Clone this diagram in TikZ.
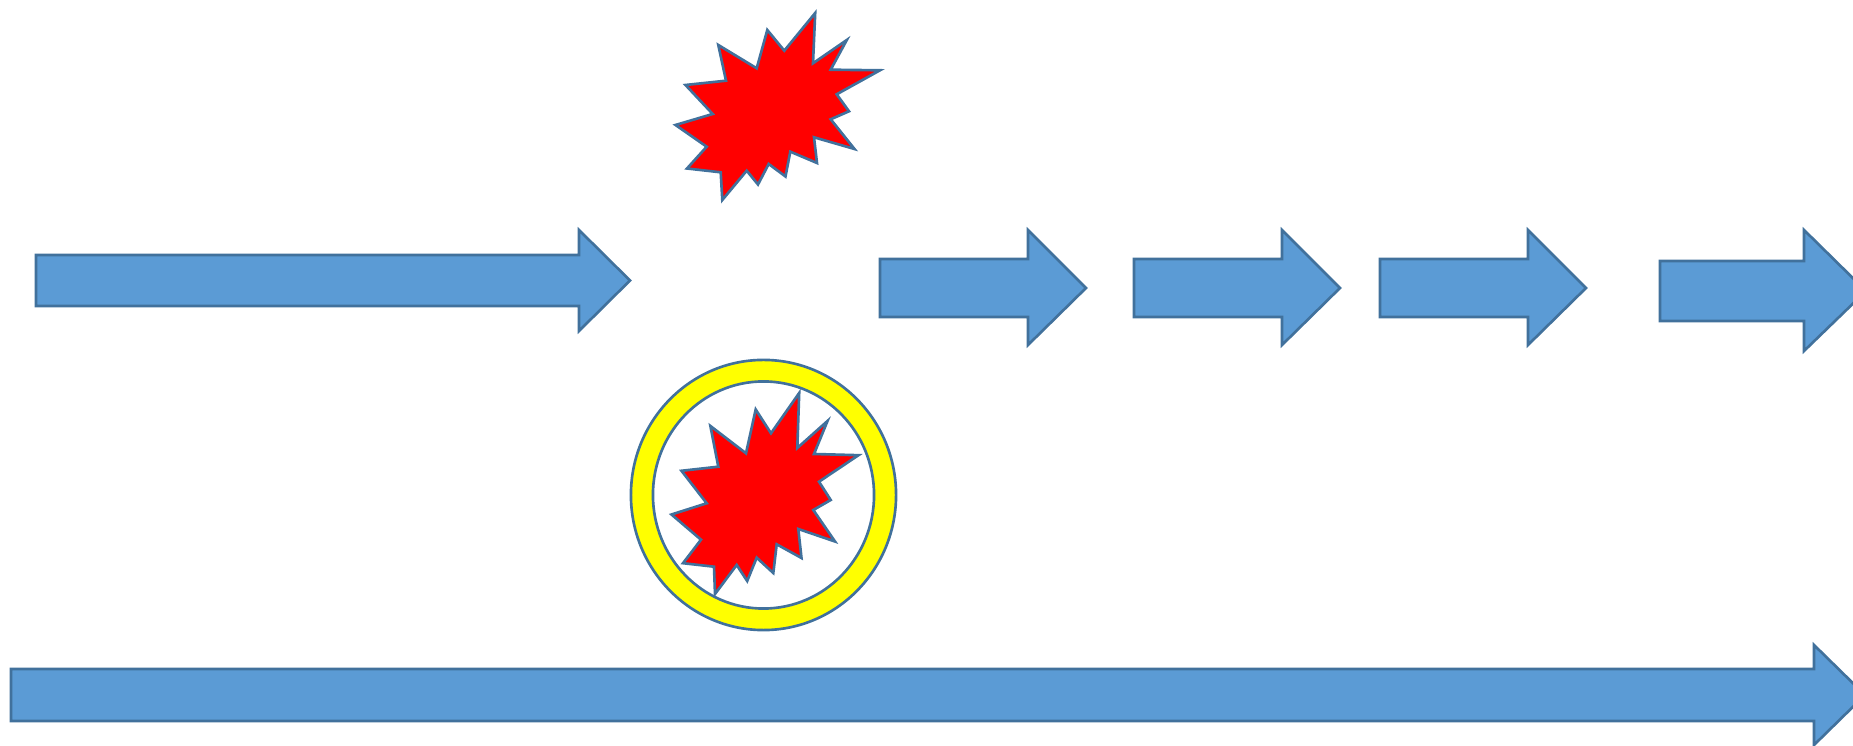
\documentclass[tikz,border=0pt]{standalone}
\usepackage{tikz}
\definecolor{arrowfill}{HTML}{5B9BD5}
\definecolor{shapeline}{HTML}{41719C}
\definecolor{burstfill}{RGB}{255,0,0}
\definecolor{ringfill}{RGB}{255,255,0}
\tikzset{x=0.01cm,y=-0.01cm,
outlined/.style={draw=shapeline,line width=0.75pt}, % Same outline everywhere
blockarrow/.style={outlined,fill=arrowfill},
burst/.style={outlined,fill=burstfill},
ring/.style={outlined,fill=ringfill},
hole/.style={outlined,fill=white}}

\begin{document}
\begin{tikzpicture}
\useasboundingbox (0,0) rectangle (1853,746);
\clip (0,0) rectangle (1853,746);
\draw[blockarrow] (36,255) -- (579,255) -- (579,230) -- (630,280.5) -- (579,331) -- (579,306) -- (36,306) -- cycle;
\draw[blockarrow] (880,259) -- (1028,259) -- (1028,230) -- (1086,288) -- (1028,345) -- (1028,317) -- (880,317) -- cycle;
\draw[blockarrow] (1134,259) -- (1282,259) -- (1282,230) -- (1340,288) -- (1282,345) -- (1282,317) -- (1134,317) -- cycle;
\draw[blockarrow] (1380,259) -- (1528,259) -- (1528,230) -- (1586,288) -- (1528,345) -- (1528,317) -- (1380,317) -- cycle;
\draw[blockarrow] (1660,261) -- (1804,261) -- (1804,230) -- (1866,291) -- (1804,351) -- (1804,321) -- (1660,321) -- cycle;
\draw[blockarrow] (11,669) -- (1814,669) -- (1814,645) -- (1865,695) -- (1814,745) -- (1814,721) -- (11,721) -- cycle;
\draw[burst] (815.2,13) -- (813,63.3) -- (846.8,40) -- (830.7,69.7) -- (880,70.3) -- (836.7,94.3) -- (849,111.3)
 -- (830.7,119.3) -- (854.5,149) -- (814,137.3) -- (817,163) -- (790.3,151.7) -- (785.5,176.5) -- (768.7,164)
 -- (758,184.5) -- (746.7,170.7) -- (722.3,200) -- (720.7,172.3) -- (687,168.5) -- (706.7,146.7) -- (675.5,125)
 -- (712.7,114) -- (685.5,85) -- (726,80.7) -- (718.3,45) -- (756.7,68.3) -- (767.3,30) -- (784.3,50.7) -- cycle;
\draw[ring] (763.5,495) ellipse [x radius=1.325cm,y radius=1.35cm];
\draw[hole] (763.5,495) ellipse [x radius=1.105cm,y radius=1.135cm];
\draw[burst] (799.2,393) -- (797.3,448) -- (827.5,421) -- (814,454) -- (858.5,455.2) -- (819,481.7) -- (830.7,500)
 -- (813.3,510) -- (835,541.5) -- (798.3,529) -- (801.5,558) -- (776.7,544.3) -- (773.3,573) -- (756.7,557.7)
 -- (747.2,581) -- (736.7,565) -- (715,594) -- (714,566.7) -- (683,563.2) -- (701,539.7) -- (671.5,514.5)
 -- (706.7,503.3) -- (681.5,470.8) -- (718.3,466.7) -- (710.4,426) -- (746,453.3) -- (755.7,409.5) -- (771,433.3) -- cycle;
\end{tikzpicture}
\end{document}
